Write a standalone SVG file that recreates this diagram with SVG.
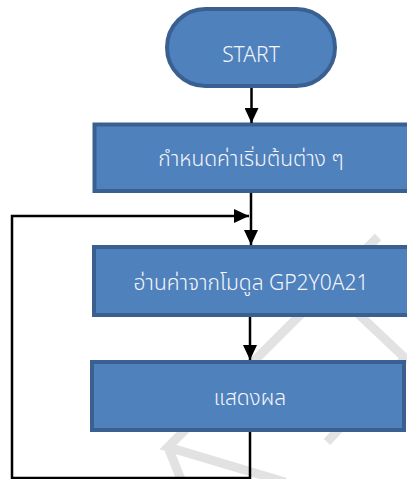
<svg xmlns="http://www.w3.org/2000/svg" width="407" height="479" viewBox="0 0 407 479">
<defs>
<style>
.wm{fill:none;stroke:#e2e2e2;stroke-width:9;stroke-linecap:butt;stroke-linejoin:miter}
.shape{fill:#4f81bd;stroke:#3a6092;stroke-width:4}
.lbl{font-family:"Noto Sans Thai","Leelawadee UI","Noto Sans","DejaVu Sans",sans-serif;font-size:21px;font-weight:300;fill:#f4f6fa;text-anchor:middle}
.conn{fill:none;stroke:#000;stroke-width:2.5}
</style>
<marker id="ah" markerUnits="userSpaceOnUse" markerWidth="15" markerHeight="14" refX="15" refY="7" orient="auto">
<path d="M0,0 L15,7 L0,14 z" fill="#000"/>
</marker>
</defs>
<rect width="407" height="479" fill="#fff"/>
<g id="watermark">
<polyline class="wm" points="378,237 168,447 285,482"/>
<line class="wm" x1="168" y1="447" x2="182" y2="482"/>
<polyline class="wm" points="352,308 405,358 327,442"/>
</g>
<g id="start">
<rect class="shape" x="167" y="9" width="168" height="77" rx="38.5"/>
<text class="lbl" x="251" y="62">START</text>
</g>
<g id="init">
<rect class="shape" x="94.5" y="124.5" width="320" height="66.5"/>
<text class="lbl" x="251" y="166">กำหนดค่าเริ่มต้นต่าง ๆ</text>
</g>
<g id="read">
<rect class="shape" x="94" y="247" width="320" height="68"/>
<text class="lbl" x="251" y="290">อ่านค่าจากโมดูล GP2Y0A21</text>
</g>
<g id="show">
<rect class="shape" x="92" y="362" width="312" height="68"/>
<text class="lbl" x="250" y="405">แสดงผล</text>
</g>
<g id="connectors">
<line class="conn" x1="251.5" y1="88" x2="251.5" y2="123" marker-end="url(#ah)"/>
<line class="conn" x1="251" y1="193" x2="251" y2="245" marker-end="url(#ah)"/>
<polyline class="conn" points="250,432 250,478 12,478 12,216 249,216" marker-end="url(#ah)"/>
<line class="conn" x1="250" y1="317" x2="250" y2="360" marker-end="url(#ah)"/>
</g>
</svg>
